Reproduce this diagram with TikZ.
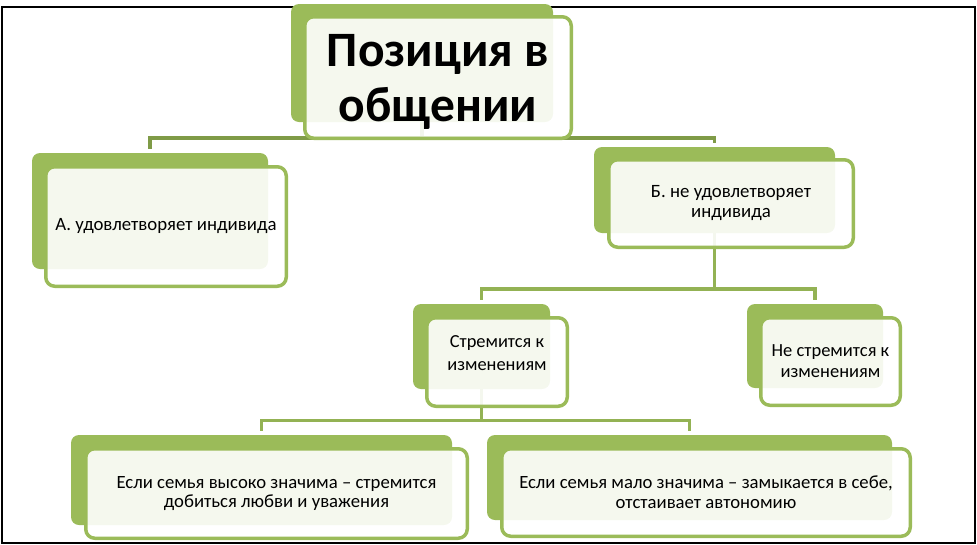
\documentclass[tikz,border=0pt]{standalone}
\usepackage{fontspec}
\setmainfont{Carlito}
\usepackage{tikz}
\usetikzlibrary{positioning}

\definecolor{boxgreen}{HTML}{9BBB59}
\definecolor{rootline}{HTML}{7F9B47}
\definecolor{linkgreen}{HTML}{93B254}

\tikzset{
  back/.style={fill=boxgreen, rounded corners=8pt, inner sep=0pt},
  front/.style={draw=boxgreen, line width=3.5pt, fill=white, fill opacity=0.9,
    text opacity=1, rounded corners=9pt, align=center, inner sep=0pt},
  link/.style={draw=linkgreen, line width=3.5pt, shorten >=4pt},
}

\begin{document}
\begin{tikzpicture}[x=1pt,y=-1pt]
\useasboundingbox (0,0) rectangle (977,544);
\draw[line width=2pt] (2,7) rectangle (975,543);

% green plates behind
\node[back, minimum width=262pt, minimum height=118pt] (rootbg) at (422,63) {};
\node[back, minimum width=236pt, minimum height=116pt] (abg) at (150,211) {};
\node[back, minimum width=241pt, minimum height=86pt] (bbg) at (714.5,190) {};
\node[back, minimum width=137pt, minimum height=85pt] (yesbg) at (481.5,346.5) {};
\node[back, minimum width=136pt, minimum height=84pt] (nobg) at (815,346) {};
\node[back, minimum width=381pt, minimum height=90pt] (highbg) at (261.5,480) {};
\node[back, minimum width=405pt, minimum height=85pt] (lowbg) at (689.5,477.5) {};

% rows of the tree
\coordinate (row1) at (0,138);
\coordinate (row2) at (0,289);
\coordinate (row3) at (0,420.5);

\draw[link, draw=rootline] (rootbg.south) -- (rootbg.south |- row1) -| (abg.north);
\draw[link, draw=rootline] (rootbg.south |- row1) -| (bbg.north);
\draw[link] (bbg.south) -- (bbg.south |- row2) -| (yesbg.north);
\draw[link] (bbg.south |- row2) -| (nobg.north);
\draw[link] (yesbg.south) -- (yesbg.south |- row3) -| (highbg.north);
\draw[link] (yesbg.south |- row3) -| (lowbg.north);

% light boxes in front
\node[front, minimum width=266.5pt, minimum height=121.5pt, text depth=0pt,
  font=\bfseries\fontsize{49.5}{55}\selectfont] (root) at (438,77.5) {Позиция в\\общении};
\node[front, minimum width=240.5pt, minimum height=119.5pt,
  font=\fontsize{18.8}{20}\selectfont] (a) at (166,226.5) {А. удовлетворяет индивида};
\node[front, minimum width=244.5pt, minimum height=87.5pt,
  font=\fontsize{18.8}{20}\selectfont] (b) at (731,203.5) {Б. не удовлетворяет\\индивида};
\node[front, minimum width=140.5pt, minimum height=88.5pt, text depth=18pt,
  font=\fontsize{18.4}{23}\selectfont] (yes) at (497,362) {Стремится к\\изменениям};
\node[front, minimum width=139.5pt, minimum height=87.5pt,
  font=\fontsize{18.5}{21}\selectfont] (no) at (830.5,361.5) {Не стремится к\\изменениям};
\node[front, minimum width=381.5pt, minimum height=89.5pt,
  font=\fontsize{18.7}{19}\selectfont] (high) at (276.5,493.5) {Если семья высоко значима – стремится\\добиться любви и уважения};
\node[front, minimum width=408.5pt, minimum height=87.5pt,
  font=\fontsize{18.7}{20}\selectfont] (low) at (706,492.5) {Если семья мало значима – замыкается в себе,\\отстаивает автономию};
\end{tikzpicture}
\end{document}
